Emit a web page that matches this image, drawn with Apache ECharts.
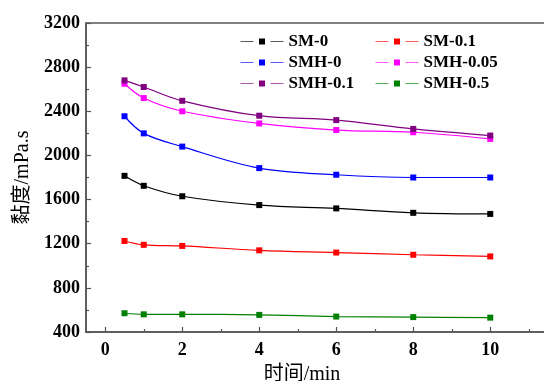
<!DOCTYPE html>
<html>
<head>
<meta charset="utf-8">
<script src="https://cdn.jsdelivr.net/npm/echarts@6/dist/echarts.min.js"></script>
<style>
  html, body { margin: 0; padding: 0; background: #fff; }
  #chart { width: 544px; height: 381px; }
</style>
</head>
<body>
<div id="chart"></div>
<script>
// Sampling times (min)
const times = [0.5, 1, 2, 4, 6, 8, 10];

// Viscosity (mPa.s) of each formulation
const sm0     = [1815, 1725, 1630, 1550, 1520, 1480, 1470];
const sm01    = [1225, 1190, 1180, 1140, 1120, 1100, 1085];
const smh0    = [2355, 2200, 2080, 1885, 1825, 1800, 1800];
const smh005  = [2650, 2520, 2400, 2290, 2230, 2210, 2150];
const smh01   = [2680, 2620, 2495, 2360, 2320, 2240, 2180];
const smh05   = [570, 560, 560, 555, 540, 535, 530];

const seriesNames  = ['SM-0', 'SM-0.1', 'SMH-0', 'SMH-0.05', 'SMH-0.1', 'SMH-0.5'];
const seriesValues = [sm0, sm01, smh0, smh005, smh01, smh05];
const seriesColors = ['#000000', '#ff0000', '#0000ff', '#ff00ff', '#800080', '#008000'];

// Axis tick labels
const xTickValues  = [0, 2, 4, 6, 8, 10];
const xMinorValues = [1, 3, 5, 7, 9, 11];

const serif = '"Times New Roman", "Liberation Serif", "Noto Sans CJK SC", serif';
const axisColor = '#555555';

const series = seriesNames.map((name, i) => ({
  name: name,
  type: 'line',
  smooth: 0.35,
  symbol: 'rect',
  symbolSize: 6,
  xAxisIndex: 0,
  yAxisIndex: 0,
  lineStyle: { width: 1.2, color: seriesColors[i] },
  itemStyle: { color: seriesColors[i] },
  data: times.map((t, j) => [t, seriesValues[i][j]])
}));

// Legend swatch: line broken around a square marker
const legendBase = {
  orient: 'vertical',
  padding: 0,
  itemWidth: 43,
  itemHeight: 7.5,
  itemGap: 4,
  lineStyle: { width: 1, type: [13, 17], opacity: 0.65 },
  textStyle: { fontFamily: serif, fontWeight: 'bold', fontSize: 17, color: '#000' }
};

const option = {
  animation: false,
  backgroundColor: '#fff',
  grid: {
    left: 86, top: 23, right: -4, bottom: 49,
    containLabel: false,
    outerBoundsMode: 'none',
    show: true, borderColor: axisColor, borderWidth: 1.5
  },
  legend: [
    Object.assign({}, legendBase, { left: 240, top: 33, data: ['SM-0', 'SMH-0', 'SMH-0.1'] }),
    Object.assign({}, legendBase, { left: 375, top: 33, data: ['SM-0.1', 'SMH-0.05', 'SMH-0.5'] })
  ],
  xAxis: [
    {
      type: 'value',
      min: -0.5,
      max: 11.5,
      name: '时间/min',
      nameLocation: 'middle',
      nameGap: 33,
      nameTextStyle: { fontFamily: serif, fontSize: 20, color: '#000', padding: [0, 30, 0, 0] },
      axisLine: { onZero: false, lineStyle: { color: axisColor, width: 1.5 } },
      axisTick: { inside: true, length: 5, customValues: xTickValues, lineStyle: { color: axisColor, width: 1.2 } },
      axisLabel: { customValues: xTickValues, margin: 9, fontFamily: serif, fontWeight: 'bold', fontSize: 18, color: '#000' },
      splitLine: { show: false }
    },
    {
      type: 'value',
      position: 'bottom',
      min: -0.5,
      max: 11.5,
      axisLine: { show: false, onZero: false },
      axisTick: { inside: true, length: 3, customValues: xMinorValues, lineStyle: { color: axisColor, width: 1.2 } },
      axisLabel: { show: false },
      splitLine: { show: false }
    }
  ],
  yAxis: {
    type: 'value',
    min: 400,
    max: 3200,
    interval: 400,
    name: '黏度/mPa.s',
    nameLocation: 'middle',
    nameGap: 52,
    nameTextStyle: { fontFamily: serif, fontSize: 20, color: '#000' },
    axisLine: { onZero: false, lineStyle: { color: axisColor, width: 1.5 } },
    axisTick: { inside: true, length: 5, lineStyle: { color: axisColor, width: 1.2 } },
    minorTick: { show: true, splitNumber: 2, length: 3, lineStyle: { color: axisColor, width: 1.2 } },
    axisLabel: {
      margin: 6, fontFamily: serif, fontWeight: 'bold', fontSize: 18, color: '#000',
      formatter: (v) => String(v)
    },
    splitLine: { show: false }
  },
  series: series
};

const chart = echarts.init(document.getElementById('chart'), null, { renderer: 'canvas' });
chart.setOption(option);
</script>
</body>
</html>
